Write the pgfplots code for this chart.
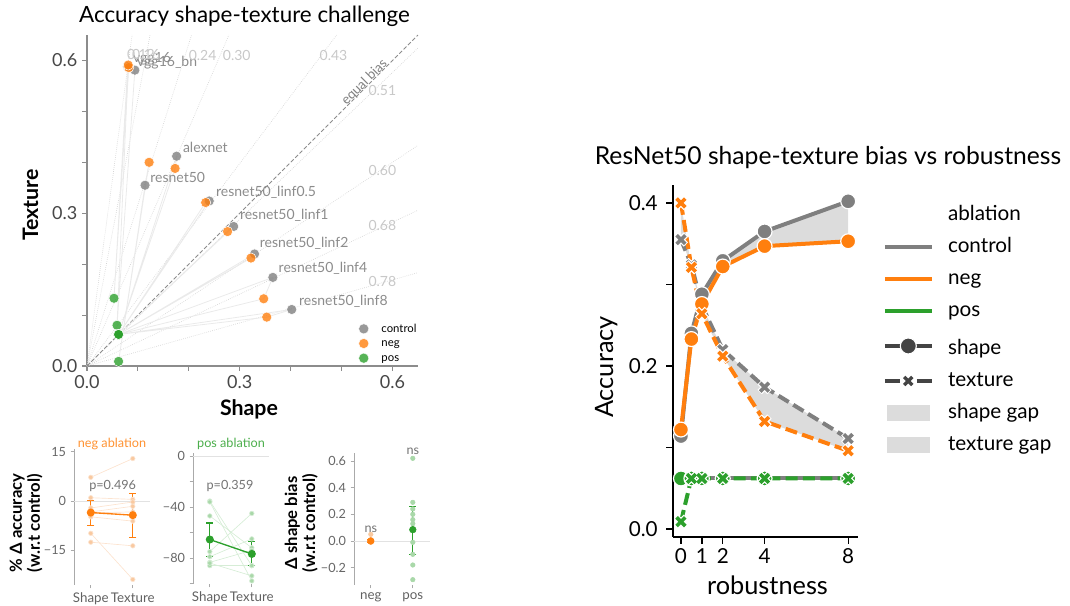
\documentclass[border=0pt]{standalone}
\usepackage{pgfplots}
\pgfplotsset{compat=1.18}
\usepackage{fontspec}
\setmainfont{Lato}
\definecolor{cgray}{HTML}{7F7F7F}
\definecolor{corange}{HTML}{FF7F0E}
\definecolor{cgreen}{HTML}{2CA02C}
\definecolor{gapfill}{HTML}{DCDCDC}
\definecolor{legdark}{HTML}{444444}
\definecolor{biastext}{HTML}{C8C8C8}
\definecolor{labeltext}{HTML}{8C8C8C}
\definecolor{faint}{HTML}{E2E2E2}
\definecolor{linkline}{HTML}{EAEAEA}
\definecolor{spine}{HTML}{8C8C8C}
\definecolor{spinelight}{HTML}{AAAAAA}
\definecolor{ptorange}{HTML}{F9C9A0}
\definecolor{lnorange}{HTML}{FCE3CF}
\definecolor{ptgreen}{HTML}{A9D8A9}
\definecolor{lngreen}{HTML}{D6EDD6}
\newcommand\fsz[1]{\fontsize{#1}{#1}\selectfont}

\begin{document}
\begin{tikzpicture}
\path[use as bounding box] (0,0) rectangle (802.5pt,454.5pt);

% ---------------- shape vs texture accuracy scatter ----------------
\begin{axis}[
  at={(65.25pt,180pt)}, anchor=south west,
  scale only axis, width=248.25pt, height=248.25pt,
  xmin=0, xmax=0.65, ymin=0, ymax=0.65,
  axis x line*=bottom, axis y line*=left,
  axis line style={spine, line width=0.8pt},
  tick align=outside, major tick length=3.75pt,
  tick style={spine, line width=0.8pt},
  xtick={0,0.1,0.2,0.3,0.4,0.5,0.6}, xticklabels={0.0,,,0.3,,,0.6},
  ytick={0,0.1,0.2,0.3,0.4,0.5,0.6}, yticklabels={0.0,,,0.3,,,0.6},
  tick label style={font=\fsz{13.5}, text=black!72},
  clip=false,
  legend style={at={(axis description cs:0.82,0.132)}, anchor=north west,
    draw=none, fill=none, font=\fsz{8.5}, row sep=1.6pt, inner sep=0pt,
    nodes={inner sep=0.5pt, text height=6.6pt, text depth=1.8pt},
    /tikz/every odd column/.append style={column sep=9pt}},
  legend cell align=left,
  legend image code/.code={\draw[#1] plot coordinates {(3.8pt,0pt)};},
]
% iso shape-bias rays through the origin
\addplot[forget plot, densely dotted, color=black!17, line width=0.5pt] coordinates {(0,0) (0.0886,0.65)};
\addplot[forget plot, densely dotted, color=black!17, line width=0.5pt] coordinates {(0,0) (0.1238,0.65)};
\addplot[forget plot, densely dotted, color=black!17, line width=0.5pt] coordinates {(0,0) (0.2053,0.65)};
\addplot[forget plot, densely dotted, color=black!17, line width=0.5pt] coordinates {(0,0) (0.2786,0.65)};
\addplot[forget plot, densely dotted, color=black!17, line width=0.5pt] coordinates {(0,0) (0.4903,0.65)};
\addplot[forget plot, densely dotted, color=black!17, line width=0.5pt] coordinates {(0,0) (0.65,0.6245)};
\addplot[forget plot, densely dotted, color=black!17, line width=0.5pt] coordinates {(0,0) (0.65,0.4333)};
\addplot[forget plot, densely dotted, color=black!17, line width=0.5pt] coordinates {(0,0) (0.65,0.3059)};
\addplot[forget plot, densely dotted, color=black!17, line width=0.5pt] coordinates {(0,0) (0.65,0.1833)};
% equal bias diagonal
\addplot[forget plot, color=black!45, line width=0.7pt, dash pattern=on 3pt off 1.6pt] coordinates {(0,0) (0.65,0.65)};
% per-model links: control -> neg -> pos -> control
\addplot[forget plot, linkline, line width=0.6pt] coordinates {(0.080,0.588) (0.082,0.586) (0.053,0.133) (0.080,0.588)};
\addplot[forget plot, linkline, line width=0.6pt] coordinates {(0.094,0.581) (0.081,0.591) (0.059,0.080) (0.094,0.581)};
\addplot[forget plot, linkline, line width=0.6pt] coordinates {(0.176,0.412) (0.173,0.388) (0.062,0.062) (0.176,0.412)};
\addplot[forget plot, linkline, line width=0.6pt] coordinates {(0.114,0.355) (0.122,0.400) (0.062,0.009) (0.114,0.355)};
\addplot[forget plot, linkline, line width=0.6pt] coordinates {(0.240,0.324) (0.233,0.321) (0.062,0.062) (0.240,0.324)};
\addplot[forget plot, linkline, line width=0.6pt] coordinates {(0.288,0.274) (0.276,0.264) (0.062,0.062) (0.288,0.274)};
\addplot[forget plot, linkline, line width=0.6pt] coordinates {(0.329,0.220) (0.322,0.212) (0.062,0.062) (0.329,0.220)};
\addplot[forget plot, linkline, line width=0.6pt] coordinates {(0.365,0.174) (0.347,0.132) (0.062,0.062) (0.365,0.174)};
\addplot[forget plot, linkline, line width=0.6pt] coordinates {(0.402,0.111) (0.353,0.096) (0.062,0.062) (0.402,0.111)};
% control
\addplot[forget plot, only marks, mark=*, mark size=3.8pt, mark options={fill=cgray, fill opacity=0.8, draw=white, line width=0.4pt}] coordinates {
 (0.080,0.588) (0.094,0.581) (0.176,0.412) (0.114,0.355) (0.240,0.324) (0.288,0.274) (0.329,0.220) (0.365,0.174) (0.402,0.111)};
% neg
\addplot[forget plot, only marks, mark=*, mark size=3.8pt, mark options={fill=corange, fill opacity=0.8, draw=white, line width=0.4pt}] coordinates {
 (0.082,0.586) (0.081,0.591) (0.173,0.388) (0.122,0.400) (0.233,0.321) (0.276,0.264) (0.322,0.212) (0.347,0.132) (0.353,0.096)};
% pos
\addplot[forget plot, only marks, mark=*, mark size=3.8pt, mark options={fill=cgreen, fill opacity=0.8, draw=white, line width=0.4pt}] coordinates {
 (0.053,0.133) (0.059,0.080) (0.062,0.062) (0.062,0.009) (0.062,0.062) (0.062,0.062) (0.062,0.062) (0.062,0.062) (0.062,0.062)};
% model names
\begin{scope}[every node/.style={anchor=west, text=labeltext, font=\fsz{10.5}, inner sep=0pt}]
\node at (axis cs:0.090,0.604) {vgg16};
\node at (axis cs:0.098,0.596) {vgg16\_bn};
\node at (axis cs:0.188,0.429) {alexnet};
\node at (axis cs:0.124,0.371) {resnet50};
\node at (axis cs:0.253,0.341) {resnet50\_linf0.5};
\node at (axis cs:0.300,0.296) {resnet50\_linf1};
\node at (axis cs:0.339,0.241) {resnet50\_linf2};
\node at (axis cs:0.376,0.192) {resnet50\_linf4};
\node at (axis cs:0.416,0.127) {resnet50\_linf8};
\end{scope}
% shape-bias values of the rays
\begin{scope}[every node/.style={text=biastext, font=\fsz{10.5}, inner sep=0pt}]
\node at (axis cs:0.106,0.612) {0.12};
\node at (axis cs:0.116,0.612) {0.16};
\node at (axis cs:0.227,0.610) {0.24};
\node at (axis cs:0.294,0.610) {0.30};
\node at (axis cs:0.484,0.610) {0.43};
\node at (axis cs:0.580,0.541) {0.51};
\node at (axis cs:0.580,0.384) {0.60};
\node at (axis cs:0.580,0.276) {0.68};
\node at (axis cs:0.580,0.165) {0.78};
\end{scope}
\node[rotate=45, text=black!50, font=\fsz{10}, inner sep=0pt] at (axis cs:0.545,0.557) {equal bias};
\addlegendimage{only marks, mark=*, mark size=3.8pt, mark options={fill=cgray, fill opacity=0.8, draw=white, line width=0.3pt}}
\addlegendentry{control}
\addlegendimage{only marks, mark=*, mark size=3.8pt, mark options={fill=corange, fill opacity=0.8, draw=white, line width=0.3pt}}
\addlegendentry{neg}
\addlegendimage{only marks, mark=*, mark size=3.8pt, mark options={fill=cgreen, fill opacity=0.8, draw=white, line width=0.3pt}}
\addlegendentry{pos}
\end{axis}
\node[anchor=base, font=\fsz{16.8}] at (183.4pt,437.25pt) {Accuracy shape-texture challenge};
\node[anchor=base, font=\bfseries\fsz{16}] at (186.75pt,142.5pt) {Shape};
\node[anchor=base, rotate=90, font=\bfseries\fsz{16}] at (28.5pt,300.75pt) {Texture};

% ---------------- neg ablation ----------------
\begin{axis}[
  at={(55.5pt,15.75pt)}, anchor=south west, scale only axis, width=56.7pt, height=102pt,
  xmin=-0.4, xmax=1.4, ymin=-25.5, ymax=15.8,
  axis y line*=left, axis x line*=bottom, x axis line style={draw=none},
  y axis line style={spinelight, line width=0.6pt},
  tick align=outside, major tick length=2.5pt, tick style={spinelight, line width=0.6pt},
  xtick={0,1}, xticklabels={Shape,Texture},
  ytick={-15,0,15}, yticklabels={−15,0,15},
  x tick label style={font=\fsz{10}, text=black!62},
  y tick label style={font=\fsz{9.5}, text=black!60},
  clip=false,
]
\addplot[faint, line width=0.6pt] coordinates {(-0.4,0) (1.4,0)};
\addplot[lnorange, line width=0.5pt, mark=*, mark size=1.7pt, mark options={draw=none, fill=ptorange}] coordinates {(0,7.2) (1,12.9)};
\addplot[lnorange, line width=0.5pt, mark=*, mark size=1.7pt, mark options={draw=none, fill=ptorange}] coordinates {(0,1.0) (1,0.5)};
\addplot[lnorange, line width=0.5pt, mark=*, mark size=1.7pt, mark options={draw=none, fill=ptorange}] coordinates {(0,-2.1) (1,-0.3)};
\addplot[lnorange, line width=0.5pt, mark=*, mark size=1.7pt, mark options={draw=none, fill=ptorange}] coordinates {(0,-3.3) (1,-1.6)};
\addplot[lnorange, line width=0.5pt, mark=*, mark size=1.7pt, mark options={draw=none, fill=ptorange}] coordinates {(0,-3.6) (1,-3.3)};
\addplot[lnorange, line width=0.5pt, mark=*, mark size=1.7pt, mark options={draw=none, fill=ptorange}] coordinates {(0,-4.8) (1,-6.1)};
\addplot[lnorange, line width=0.5pt, mark=*, mark size=1.7pt, mark options={draw=none, fill=ptorange}] coordinates {(0,-9.8) (1,-23.8)};
\addplot[lnorange, line width=0.5pt, mark=*, mark size=1.7pt, mark options={draw=none, fill=ptorange}] coordinates {(0,-12.5) (1,-13.6)};
\addplot[corange, line width=1pt, mark=*, mark size=2.5pt,
  error bars/.cd, y dir=both, y explicit,
  error bar style={line width=0.9pt, corange},
  error mark options={rotate=90, mark size=2.6pt, line width=0.9pt, corange}]
  coordinates {(0,-3.5) += (0,3.6) -= (0,3.9) (1,-4.3) += (0,6.5) -= (0,6.7)};
\end{axis}
\node[text=corange!85, font=\fsz{9.5}] at (84pt,121.5pt) {neg ablation};
\node[text=black!55, font=\fsz{9.5}] at (84.5pt,90pt) {p=0.496};
\node[rotate=90, align=center, font=\bfseries\fontsize{12.5}{13.5}\selectfont] at (19.5pt,62.25pt) {\% Δ accuracy\\(w.r.t control)};

% ---------------- pos ablation ----------------
\begin{axis}[
  at={(144.75pt,16.5pt)}, anchor=south west, scale only axis, width=56.7pt, height=98.25pt,
  xmin=-0.4, xmax=1.4, ymin=-100.4, ymax=2.4,
  axis y line*=left, axis x line*=bottom, x axis line style={draw=none},
  y axis line style={spinelight, line width=0.6pt},
  tick align=outside, major tick length=2.5pt, tick style={spinelight, line width=0.6pt},
  xtick={0,1}, xticklabels={Shape,Texture},
  ytick={-100,-80,-60,-40,-20,0}, yticklabels={,−80,,−40,,0},
  x tick label style={font=\fsz{10}, text=black!62},
  y tick label style={font=\fsz{9.5}, text=black!60},
  clip=false,
]
\addplot[faint, line width=0.6pt] coordinates {(-0.4,0) (1.4,0)};
\addplot[lngreen, line width=0.5pt, mark=*, mark size=1.7pt, mark options={draw=none, fill=ptgreen}] coordinates {(0,-35.3) (1,-86)};
\addplot[lngreen, line width=0.5pt, mark=*, mark size=1.7pt, mark options={draw=none, fill=ptgreen}] coordinates {(0,-36) (1,-98)};
\addplot[lngreen, line width=0.5pt, mark=*, mark size=1.7pt, mark options={draw=none, fill=ptgreen}] coordinates {(0,-47) (1,-72)};
\addplot[lngreen, line width=0.5pt, mark=*, mark size=1.7pt, mark options={draw=none, fill=ptgreen}] coordinates {(0,-75) (1,-45)};
\addplot[lngreen, line width=0.5pt, mark=*, mark size=1.7pt, mark options={draw=none, fill=ptgreen}] coordinates {(0,-79) (1,-65)};
\addplot[lngreen, line width=0.5pt, mark=*, mark size=1.7pt, mark options={draw=none, fill=ptgreen}] coordinates {(0,-83.4) (1,-74)};
\addplot[lngreen, line width=0.5pt, mark=*, mark size=1.7pt, mark options={draw=none, fill=ptgreen}] coordinates {(0,-86) (1,-86)};
\addplot[lngreen, line width=0.5pt, mark=*, mark size=1.7pt, mark options={draw=none, fill=ptgreen}] coordinates {(0,-84) (1,-94)};
\addplot[cgreen, line width=1pt, mark=*, mark size=2.5pt,
  error bars/.cd, y dir=both, y explicit,
  error bar style={line width=0.9pt, cgreen},
  error mark options={rotate=90, mark size=2.6pt, line width=0.9pt, cgreen}]
  coordinates {(0,-65.5) += (0,12.9) -= (0,13.5) (1,-76.8) += (0,9.8) -= (0,9.2)};
\end{axis}
\node[text=cgreen!85, font=\fsz{9.5}] at (173.25pt,121.5pt) {pos ablation};
\node[text=black!55, font=\fsz{9.5}] at (172.5pt,90pt) {p=0.359};

% ---------------- change in shape bias ----------------
\begin{axis}[
  at={(265.5pt,15.75pt)}, anchor=south west, scale only axis, width=56.7pt, height=99pt,
  xmin=-0.4, xmax=1.4, ymin=-0.33, ymax=0.66,
  axis y line*=left, axis x line*=bottom, x axis line style={draw=none},
  y axis line style={spinelight, line width=0.6pt},
  tick align=outside, major tick length=2.5pt, tick style={spinelight, line width=0.6pt},
  xtick={0,1}, xticklabels={neg,pos},
  ytick={-0.2,0,0.2,0.4,0.6}, yticklabels={−0.2,0.0,0.2,0.4,0.6},
  x tick label style={font=\fsz{10}, text=black!62},
  y tick label style={font=\fsz{9.5}, text=black!60},
  clip=false,
]
\addplot[faint, line width=0.6pt] coordinates {(-0.4,0) (1.4,0)};
\addplot[ptorange, only marks, mark=*, mark size=1.7pt, mark options={draw=none, fill=ptorange}] coordinates {(0,0.05) (0,0.01) (0,-0.01) (0,0.005) (0,-0.005)};
\addplot[ptgreen, only marks, mark=*, mark size=1.7pt, mark options={draw=none, fill=ptgreen}] coordinates {(1,0.62) (1,0.29) (1,0.24) (1,0.20) (1,0.16) (1,0.13) (1,-0.01) (1,-0.10) (1,-0.18) (1,-0.29)};
\addplot[corange, only marks, mark=*, mark size=2.5pt,
  error bars/.cd, y dir=both, y explicit,
  error bar style={line width=0.9pt, corange},
  error mark options={rotate=90, mark size=2.6pt, line width=0.9pt, corange}]
  coordinates {(0,0.0) += (0,0.01) -= (0,0.01)};
\addplot[cgreen, only marks, mark=*, mark size=2.5pt,
  error bars/.cd, y dir=both, y explicit,
  error bar style={line width=0.9pt, cgreen},
  error mark options={rotate=90, mark size=2.6pt, line width=0.9pt, cgreen}]
  coordinates {(1,0.085) += (0,0.175) -= (0,0.185)};
\node[text=black!55, font=\fsz{9.5}] at (axis cs:0,0.09) {ns};
\node[text=black!55, font=\fsz{9.5}] at (axis cs:1,0.67) {ns};
\end{axis}
\node[rotate=90, align=center, font=\bfseries\fontsize{12.5}{13.5}\selectfont] at (226pt,62.25pt) {Δ shape bias\\(w.r.t control)};

% ---------------- ResNet50 bias vs robustness ----------------
\begin{axis}[
  at={(504.75pt,51.75pt)}, anchor=south west, scale only axis, width=138.75pt, height=264pt,
  xmin=-0.38, xmax=8.47, ymin=-0.0098, ymax=0.422,
  axis x line*=bottom, axis y line*=left,
  axis line style={black, line width=1pt},
  tick align=outside, major tick length=5pt, tick style={black, line width=1pt},
  xtick={0,1,2,4,8}, xticklabels={0,1,2,4,8},
  ytick={0,0.1,0.2,0.3,0.4}, yticklabels={0.0,,0.2,,0.4},
  tick label style={font=\fsz{15.5}},
  y tick label style={xshift=-3pt},
  clip=false,
  legend style={at={(axis description cs:1.135,0.944)}, anchor=north west,
    draw=none, fill=none, font=\fsz{15.5}, row sep=9pt, inner sep=0pt,
    nodes={inner sep=0pt, text height=11.5pt, text depth=3.5pt},
    /tikz/every odd column/.append style={column sep=11pt}},
  legend cell align=left,
  legend image code/.code={\draw[mark repeat=2,mark phase=2,#1] plot coordinates {(-2pt,0pt) (15.5pt,0pt) (33pt,0pt)};},
]
% gap between control and neg (shape)
\addplot[forget plot, fill=gapfill, draw=none] coordinates {(0,0.114) (0.5,0.240) (1,0.288) (2,0.329) (4,0.365) (8,0.402)
  (8,0.353) (4,0.347) (2,0.322) (1,0.276) (0.5,0.233) (0,0.122)};
% gap between control and neg (texture)
\addplot[forget plot, fill=gapfill, draw=none] coordinates {(0,0.355) (0.5,0.324) (1,0.274) (2,0.220) (4,0.174) (8,0.111)
  (8,0.096) (4,0.132) (2,0.212) (1,0.264) (0.5,0.321) (0,0.400)};
% control
\addplot[forget plot, cgray, line width=3pt, mark=*, mark size=5.6pt, mark options={fill=cgray, draw=white, line width=0.9pt}]
  coordinates {(0,0.114) (0.5,0.240) (1,0.288) (2,0.329) (4,0.365) (8,0.402)};
\addplot[forget plot, cgray, line width=3pt, dash pattern=on 9pt off 4pt]
  coordinates {(0,0.355) (0.5,0.324) (1,0.274) (2,0.220) (4,0.174) (8,0.111)};
\addplot[forget plot, only marks, mark=x, mark size=5.2pt, mark options={white, line width=4.6pt}]
  coordinates {(0,0.355) (0.5,0.324) (1,0.274) (2,0.220) (4,0.174) (8,0.111)};
\addplot[forget plot, only marks, mark=x, mark size=4.6pt, mark options={cgray, line width=2.7pt}]
  coordinates {(0,0.355) (0.5,0.324) (1,0.274) (2,0.220) (4,0.174) (8,0.111)};
% neg
\addplot[forget plot, corange, line width=3pt, mark=*, mark size=5.6pt, mark options={fill=corange, draw=white, line width=0.9pt}]
  coordinates {(0,0.122) (0.5,0.233) (1,0.276) (2,0.322) (4,0.347) (8,0.353)};
\addplot[forget plot, corange, line width=3pt, dash pattern=on 9pt off 4pt]
  coordinates {(0,0.400) (0.5,0.321) (1,0.264) (2,0.212) (4,0.132) (8,0.096)};
\addplot[forget plot, only marks, mark=x, mark size=5.2pt, mark options={white, line width=4.6pt}]
  coordinates {(0,0.400) (0.5,0.321) (1,0.264) (2,0.212) (4,0.132) (8,0.096)};
\addplot[forget plot, only marks, mark=x, mark size=4.6pt, mark options={corange, line width=2.7pt}]
  coordinates {(0,0.400) (0.5,0.321) (1,0.264) (2,0.212) (4,0.132) (8,0.096)};
% pos
\addplot[forget plot, cgray, line width=3pt]
  coordinates {(0,0.062) (0.5,0.062) (1,0.062) (2,0.062) (4,0.062) (8,0.062)};
\addplot[forget plot, only marks, mark=*, mark size=5.6pt, mark options={fill=cgreen, draw=white, line width=0.9pt}]
  coordinates {(0,0.062) (0.5,0.062) (1,0.062) (2,0.062) (4,0.062) (8,0.062)};
\addplot[forget plot, cgreen, line width=3pt, dash pattern=on 9pt off 4pt]
  coordinates {(0,0.009) (0.5,0.062) (1,0.062) (2,0.062) (4,0.062) (8,0.062)};
\addplot[forget plot, only marks, mark=x, mark size=5.2pt, mark options={white, line width=4.6pt}]
  coordinates {(0,0.009) (0.5,0.062) (1,0.062) (2,0.062) (4,0.062) (8,0.062)};
\addplot[forget plot, only marks, mark=x, mark size=4.6pt, mark options={cgreen, line width=2.7pt}]
  coordinates {(0,0.009) (0.5,0.062) (1,0.062) (2,0.062) (4,0.062) (8,0.062)};
% legend
\addlegendimage{empty legend}\addlegendentry{ablation}
\addlegendimage{cgray, line width=2.4pt}\addlegendentry{control}
\addlegendimage{corange, line width=2.4pt}\addlegendentry{neg}
\addlegendimage{cgreen, line width=2.4pt}\addlegendentry{pos}
\addlegendimage{legdark, line width=2.6pt, mark=*, mark size=6pt, mark options={fill=legdark, draw=white, line width=0.8pt}}\addlegendentry[text height=16pt]{shape}
\addlegendimage{legdark, line width=2.6pt, dash pattern=on 11pt off 13pt, mark=x, mark size=4.3pt, mark options={solid, line width=2.5pt}}\addlegendentry{texture}
\addlegendimage{legend image code/.code={\fill[gapfill] (0pt,-5.5pt) rectangle (31pt,5.5pt);}}\addlegendentry{shape gap}
\addlegendimage{legend image code/.code={\fill[gapfill] (0pt,-5.5pt) rectangle (31pt,5.5pt);}}\addlegendentry{texture gap}
\end{axis}
\node[anchor=base, font=\fsz{18.5}] at (621pt,330.75pt) {ResNet50 shape-texture bias vs robustness};
\node[anchor=base, font=\fsz{19}] at (575.6pt,8.25pt) {robustness};
\node[anchor=base, rotate=90, font=\fsz{19}] at (459.75pt,179.25pt) {Accuracy};
\end{tikzpicture}
\end{document}
